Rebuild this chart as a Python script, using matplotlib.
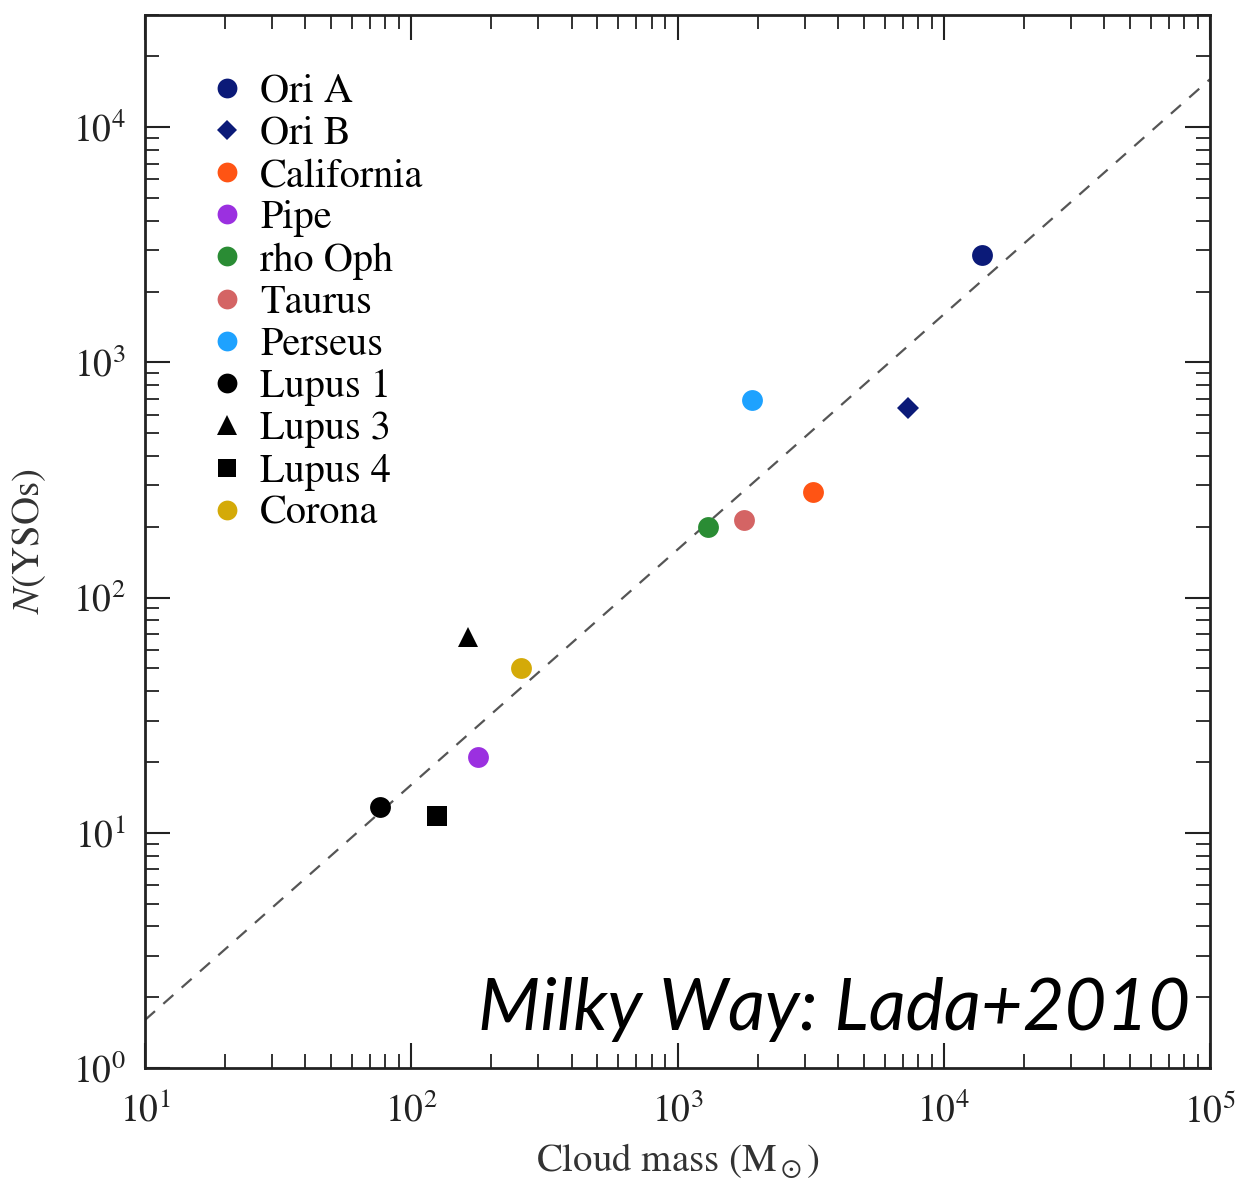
import matplotlib
matplotlib.use("Agg")
import matplotlib.pyplot as plt
import numpy as np
from matplotlib.ticker import LogLocator, FuncFormatter, NullFormatter

plt.rcParams['font.family'] = ['STIXGeneral', 'DejaVu Serif']
plt.rcParams['mathtext.fontset'] = 'stix'

# cloud data: mass (Msun) and number of YSOs
clouds = ['Ori A', 'Ori B', 'California', 'Pipe', 'rho Oph', 'Taurus',
          'Perseus', 'Lupus 1', 'Lupus 3', 'Lupus 4', 'Corona']
mass = [13900, 7340, 3230, 178, 1300, 1780, 1900, 76, 163, 125, 258]
n_yso = [2850, 637, 280, 21, 199, 213, 690, 12.9, 68, 11.8, 50]
colors = ['#0b1a78', '#0b1a78', '#ff5414', '#9b30e0', '#2a8c34', '#d46464',
          '#1ea2ff', 'black', 'black', 'black', '#d4aa08']
markers = ['o', 'D', 'o', 'o', 'o', 'o', 'o', 'o', '^', 's', 'o']
sizes = [15, 11, 15, 15, 15, 15, 15, 15, 15, 14, 15]

# linear relation N = 0.16 * M
fit_mass = [10, 1e5]
fit_n = [0.16 * m for m in fit_mass]

fig = plt.figure(figsize=(12.4, 11.79), dpi=100)
ax = fig.add_axes([145/1240, 1 - 1068/1179, 1065/1240, 1053/1179])

ax.plot(fit_mass, fit_n, color='#555555', lw=1.6, ls=(0, (6, 5)), zorder=1)

for name, m, n, c, mk, s in zip(clouds, mass, n_yso, colors, markers, sizes):
    ax.plot([m], [n], ls='none', marker=mk, color=c, markersize=s,
            markeredgewidth=0, label=name, zorder=3)

ax.set_xscale('log')
ax.set_yscale('log')
ax.set_xlim(10, 1e5)
ax.set_ylim(1, 3e4)

fmt = FuncFormatter(lambda v, p: r'$10^{%d}$' % round(np.log10(v)))
for axis in (ax.xaxis, ax.yaxis):
    axis.set_major_locator(LogLocator(base=10, numticks=10))
    axis.set_minor_locator(LogLocator(base=10, subs=np.arange(2, 10), numticks=10))
    axis.set_major_formatter(fmt)
    axis.set_minor_formatter(NullFormatter())

ax.tick_params(which='both', direction='in', top=True, right=True, colors='#222222')
ax.tick_params(which='major', length=18, width=1.5, labelsize=27, pad=14)
ax.tick_params(axis='x', which='major', pad=18)
ax.tick_params(which='minor', length=10, width=1.3)
for sp in ax.spines.values():
    sp.set_linewidth(2)
    sp.set_color('#222222')

ax.set_xlabel(r'Cloud mass (M$_\odot$)', fontsize=28, color='#333333', labelpad=8)
ax.set_ylabel(r'$N$(YSOs)', fontsize=28, color='#333333', labelpad=18)

leg = ax.legend(loc='upper left', bbox_to_anchor=(0.043, 0.96), frameon=False,
                fontsize=29, handletextpad=0.32, labelspacing=0.12,
                markerscale=0.95, handlelength=1.0, borderaxespad=0)

ax.text(0.981, 0.036, 'Milky Way: Lada+2010', transform=ax.transAxes,
        ha='right', va='baseline', fontsize=52, style='italic',
        family=['Lato', 'DejaVu Sans'], color='black')

fig.savefig('out.png', dpi=100)
